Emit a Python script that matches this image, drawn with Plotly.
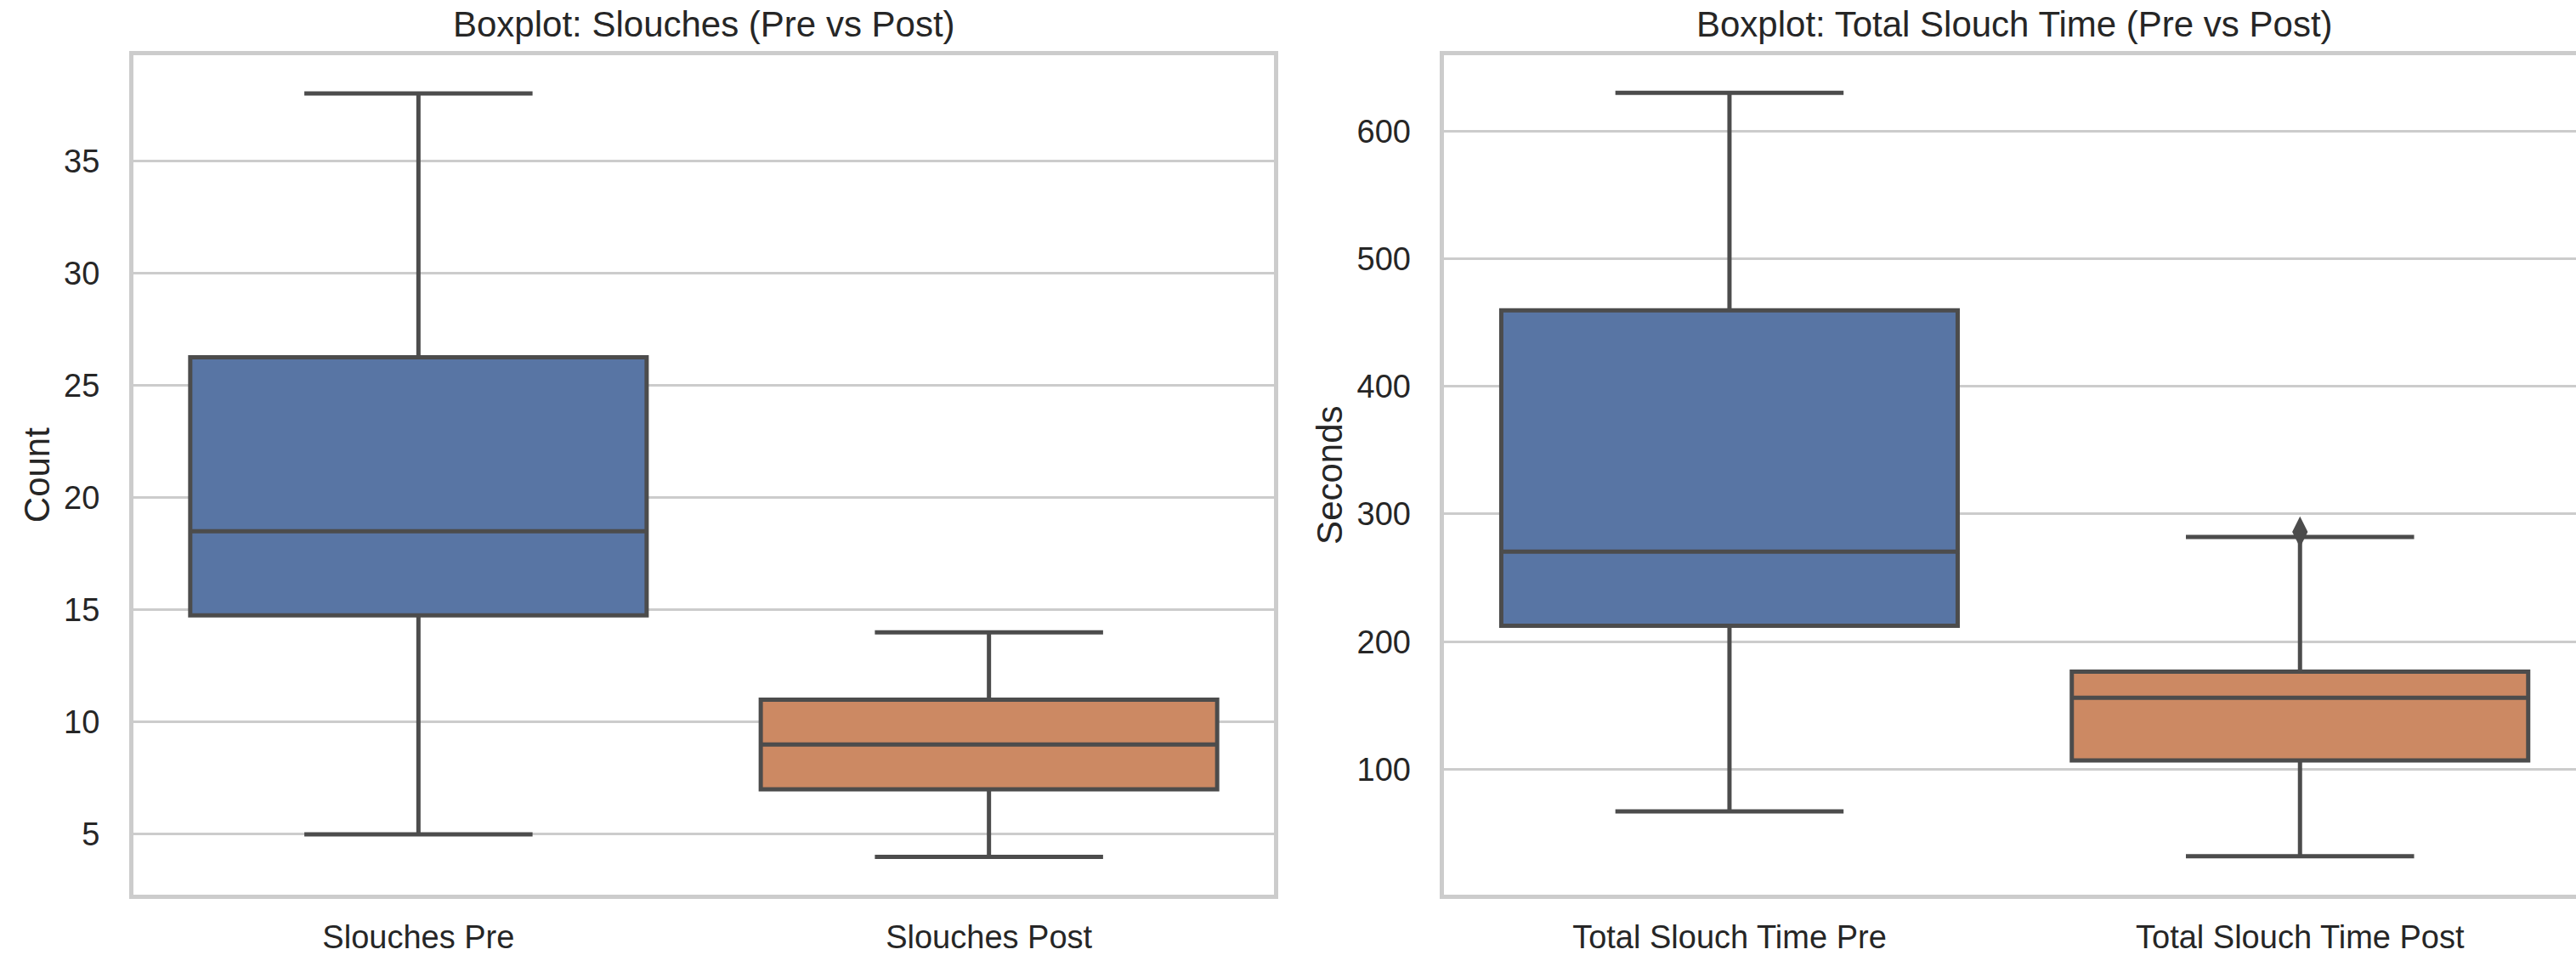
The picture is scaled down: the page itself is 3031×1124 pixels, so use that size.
import plotly.graph_objects as go

W, H = 3031, 1124

# ---- data ----
slouch_categories = ["Slouches Pre", "Slouches Post"]
slouch_lower = [5, 4]
slouch_q1 = [14.75, 7]
slouch_median = [18.5, 9]
slouch_q3 = [26.25, 11]
slouch_upper = [38, 14]

time_categories = ["Total Slouch Time Pre", "Total Slouch Time Post"]
time_lower = [67, 32]
time_q1 = [212.5, 107]
time_median = [270.5, 156]
time_q3 = [459.5, 176.5]
time_upper = [630, 282]
time_outlier_cat = ["Total Slouch Time Post"]
time_outlier_val = [286]

left_ticks = [5, 10, 15, 20, 25, 30, 35]
right_ticks = [100, 200, 300, 400, 500, 600]

fill_colors = ["#5875A4", "#CC8963"]
LINE = "#4C4C4C"
GRID = "#CCCCCC"
TEXT = "#262626"
FONT = "Liberation Sans, Arial, sans-serif"

fig = go.Figure()

def add_boxes(cats, lo, q1, med, q3, hi, xa, ya):
    for i, c in enumerate(cats):
        fig.add_trace(go.Box(
            x=[c], q1=[q1[i]], median=[med[i]], q3=[q3[i]],
            lowerfence=[lo[i]], upperfence=[hi[i]],
            width=0.8, whiskerwidth=0.5, boxpoints=False,
            fillcolor=fill_colors[i],
            line=dict(color=LINE, width=5),
            xaxis=xa, yaxis=ya, showlegend=False, hoverinfo="skip",
        ))

add_boxes(slouch_categories, slouch_lower, slouch_q1, slouch_median, slouch_q3, slouch_upper, "x", "y")
add_boxes(time_categories, time_lower, time_q1, time_median, time_q3, time_upper, "x2", "y2")

fig.add_trace(go.Scatter(
    x=time_outlier_cat, y=time_outlier_val, mode="markers",
    marker=dict(symbol="diamond-tall", size=26, color=LINE, line=dict(width=0)),
    xaxis="x2", yaxis="y2", showlegend=False, hoverinfo="skip",
))

ydom = [1 - 1053.3 / H, 1 - 65 / H]
xdom1 = [156.7 / W, 1499.3 / W]
xdom2 = [1699.3 / W, 1.0]
px_per_unit = (1499.3 - 156.7) / 2
right_max = -0.5 + (W - 1699.3) / px_per_unit

tickfont = dict(family=FONT, size=38, color=TEXT)
common_x = dict(type="category", showgrid=False, zeroline=False, showline=True,
                linecolor=GRID, linewidth=4.5, ticks="", tickfont=tickfont,
                ticklabelstandoff=12, automargin=False, fixedrange=True)
common_y = dict(showgrid=True, gridcolor=GRID, gridwidth=3.2, zeroline=False,
                showline=True, linecolor=GRID, linewidth=4.5, ticks="",
                tickfont=tickfont, ticklabelstandoff=27, automargin=False)

fig.update_layout(
    width=W, height=H,
    margin=dict(l=0, r=0, t=0, b=0),
    template="none",
    paper_bgcolor="white", plot_bgcolor="white",
    boxmode="overlay",
    xaxis=dict(domain=xdom1, anchor="y", range=[-0.5, 1.5], mirror=True,
               categoryorder="array", categoryarray=slouch_categories, **common_x),
    yaxis=dict(domain=ydom, anchor="x", range=[2.3, 39.7], mirror=True,
               tickvals=left_ticks,
               title=dict(text="Count", font=dict(family=FONT, size=42, color=TEXT), standoff=5),
               **common_y),
    xaxis2=dict(domain=xdom2, anchor="y2", range=[-0.5, right_max], mirror=True,
                categoryorder="array", categoryarray=time_categories, **common_x),
    yaxis2=dict(domain=ydom, anchor="x2", range=[1.6, 659.4], mirror=False,
                tickvals=right_ticks,
                title=dict(text="Seconds", font=dict(family=FONT, size=42, color=TEXT), standoff=5),
                **common_y),
    annotations=[
        dict(text="Boxplot: Slouches (Pre vs Post)", x=(156.7 + 1499.3) / 2 / W, y=1 - 29 / H,
             xref="paper", yref="paper", xanchor="center", yanchor="middle", showarrow=False,
             font=dict(family=FONT, size=42, color=TEXT)),
        dict(text="Boxplot: Total Slouch Time (Pre vs Post)", x=(1699.3 + 1699.3 + 2 * px_per_unit) / 2 / W,
             y=1 - 29 / H, xref="paper", yref="paper", xanchor="center", yanchor="middle",
             showarrow=False, font=dict(family=FONT, size=42, color=TEXT)),
    ],
)

fig.write_html("out.html")
